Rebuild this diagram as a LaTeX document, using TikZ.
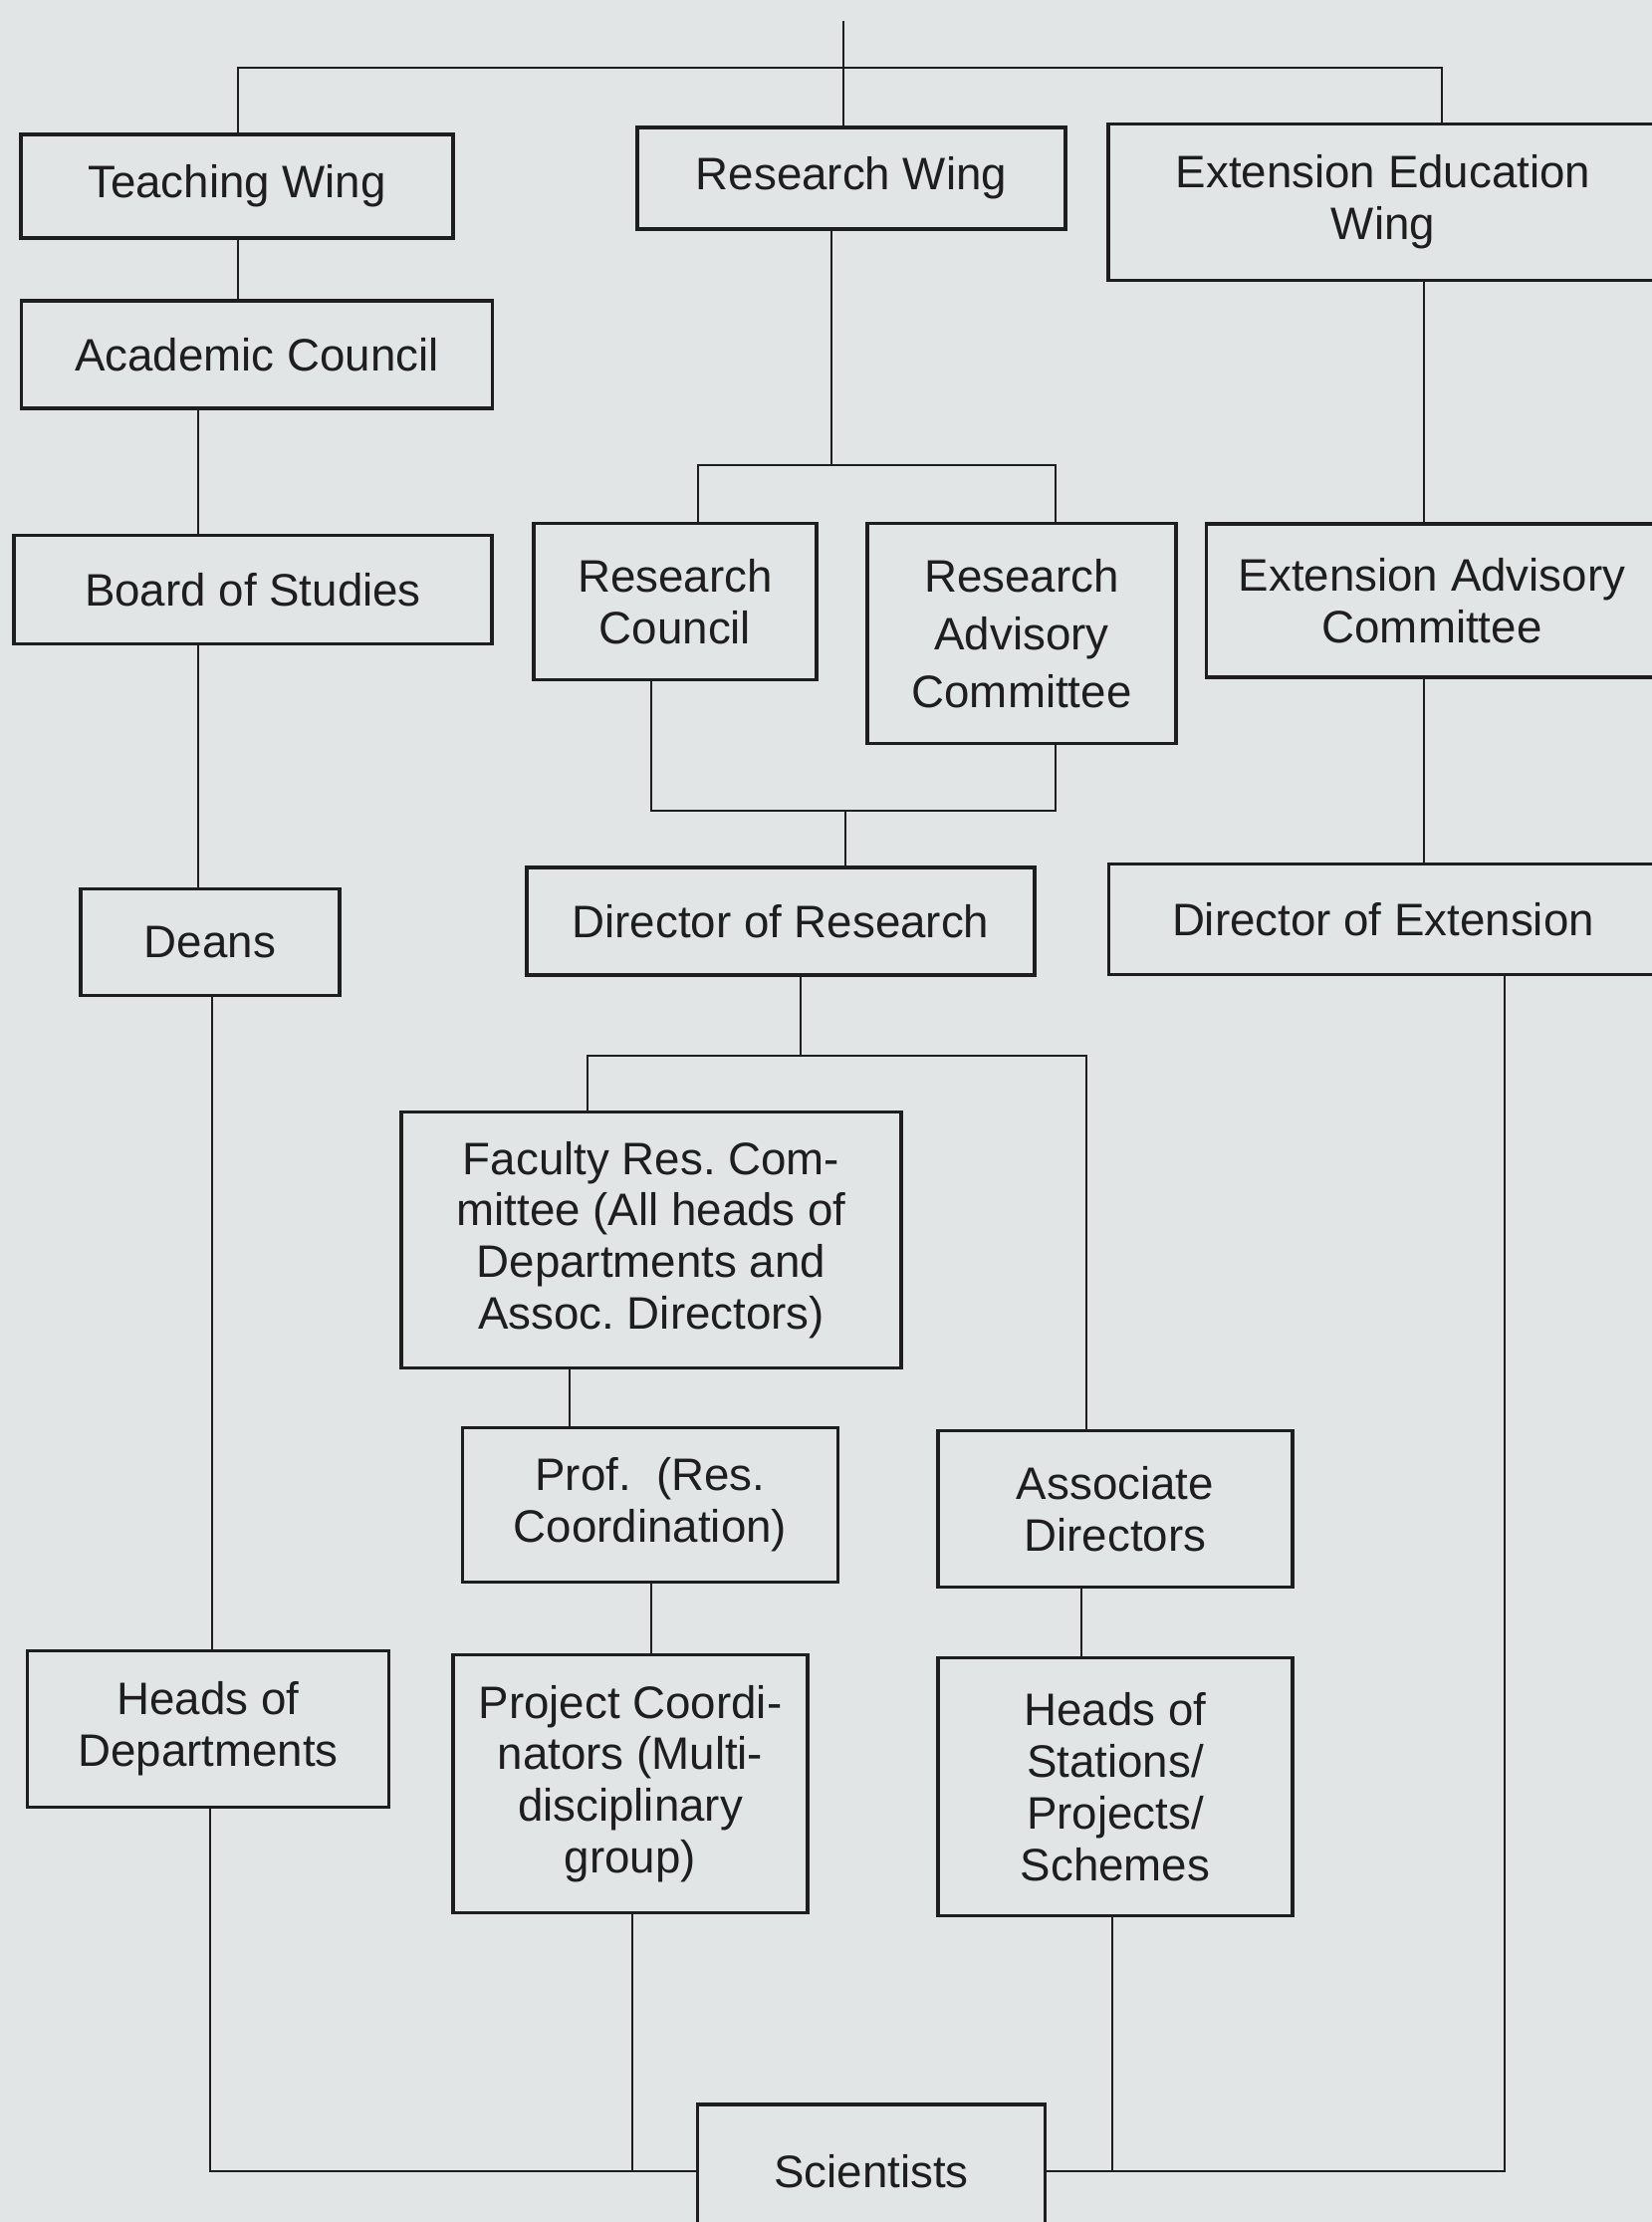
\documentclass[tikz,border=0pt]{standalone}
\usepackage{fontspec}
\setmainfont{Liberation Sans}
\definecolor{paper}{RGB}{226,229,229}
\definecolor{ink}{RGB}{30,30,30}
\tikzstyle{unit} = [rectangle, draw=ink, line width=2pt, text=ink,
    align=center, inner sep=0pt, font=\fontsize{26}{29.5}\selectfont\frenchspacing]
\tikzstyle{link} = [draw=ink, line width=1.4pt]

\begin{document}
\begin{tikzpicture}[x=0.02cm,y=-0.02cm]
  \fill[paper] (0,0) rectangle (1659,2231);
  \useasboundingbox (0,0) rectangle (1659,2231);

  % wings
  \node[unit, minimum width=8.68cm, minimum height=2.08cm] (tw)  at (238,187)  {Teaching Wing};
  \node[unit, minimum width=8.6cm,  minimum height=2.04cm] (rw)  at (855,179)  {Research Wing};
  \node[unit, minimum width=11.04cm, minimum height=3.14cm] (eew) at (1389,203) {Extension Education\\Wing};

  % teaching side
  \node[unit, minimum width=9.46cm, minimum height=2.16cm] (ac)    at (258,356)  {Academic Council};
  \node[unit, minimum width=9.6cm,  minimum height=2.18cm] (bs)    at (254,592)  {Board of Studies};
  \node[unit, minimum width=5.2cm,  minimum height=2.14cm] (deans) at (211,946)  {Deans};
  \node[unit, minimum width=7.26cm, minimum height=3.14cm] (hod)   at (209,1736) {Heads of\\Departments};

  % research side
  \node[unit, minimum width=5.68cm, minimum height=3.14cm] (rc)  at (678,604)   {Research\\Council};
  \node[unit, minimum width=6.2cm,  minimum height=4.42cm, font=\fontsize{26}{33}\selectfont] (rac) at (1026,636) {Research\\Advisory\\Committee};
  \node[unit, minimum width=10.2cm, minimum height=2.16cm] (dr)  at (784,925)   {Director of Research};
  \node[unit, minimum width=10.04cm, minimum height=5.14cm] (frc) at (654,1245) {Faculty Res. Com-\\mittee (All heads of\\Departments and\\Assoc. Directors)};
  \node[unit, minimum width=7.54cm, minimum height=3.1cm]  (prc) at (653,1511)  {Prof.\ \ (Res.\\Coordination)};
  \node[unit, minimum width=7.12cm, minimum height=3.14cm] (ad)  at (1120,1515) {Associate\\Directors};
  \node[unit, minimum width=7.12cm, minimum height=5.18cm] (pc)  at (633,1791)  {Project Coordi-\\nators (Multi-\\disciplinary\\group)};
  \node[unit, minimum width=7.12cm, minimum height=5.18cm] (hos) at (1120,1794) {Heads of\\Stations/\\Projects/\\Schemes};

  % extension side
  \node[unit, minimum width=9.06cm, minimum height=3.08cm] (eac) at (1438,603) {Extension Advisory\\Committee};
  \node[unit, minimum width=11.02cm, minimum height=2.22cm] (de) at (1389,923) {Director of Extension};

  \node[unit, minimum width=6.98cm, minimum height=2.68cm] (sci) at (875,2180) {Scientists};

  % junctions
  \coordinate (top)  at (847,21);
  \coordinate (bus)  at (847,68);
  \coordinate (rbus) at (835,467);
  \coordinate (rend) at (1060,467);
  \coordinate (cend) at (1060,814);
  \coordinate (cmid) at (849,814);
  \coordinate (dbus) at (804,1060);
  \coordinate (dend) at (1091,1060);

  \draw[link] (top) -- (bus);
  \draw[link] (239,0 |- tw.north) |- (bus) -| (1448,0 |- eew.north);
  \draw[link] (bus) -- (bus |- rw.north);

  \draw[link] (239,0 |- tw.south) -- (239,0 |- ac.north);
  \draw[link] (199,0 |- ac.south) -- (199,0 |- bs.north);
  \draw[link] (199,0 |- bs.south) -- (199,0 |- deans.north);
  \draw[link] (213,0 |- deans.south) -- (213,0 |- hod.north);
  \draw[link] (211,0 |- hod.south) |- (sci.west);
  \draw[link] (635,0 |- pc.south) -- (635,0 |- sci.west);

  \draw[link] (rbus |- rw.south) -- (rbus);
  \draw[link] (701,0 |- rc.north) |- (rend) -- (rend |- rac.north);
  \draw[link] (654,0 |- rc.south) |- (cend) -- (cend |- rac.south);
  \draw[link] (cmid) -- (cmid |- dr.north);

  \draw[link] (1430,0 |- eew.south) -- (1430,0 |- eac.north);
  \draw[link] (1430,0 |- eac.south) -- (1430,0 |- de.north);
  \draw[link] (1511,0 |- de.south) |- (sci.east);
  \draw[link] (1117,0 |- hos.south) -- (1117,0 |- sci.east);

  \draw[link] (dbus |- dr.south) -- (dbus);
  \draw[link] (590,0 |- frc.north) |- (dend) -- (dend |- ad.north);
  \draw[link] (572,0 |- frc.south) -- (572,0 |- prc.north);
  \draw[link] (654,0 |- prc.south) -- (654,0 |- pc.north);
  \draw[link] (1086,0 |- ad.south) -- (1086,0 |- hos.north);
\end{tikzpicture}
\end{document}
